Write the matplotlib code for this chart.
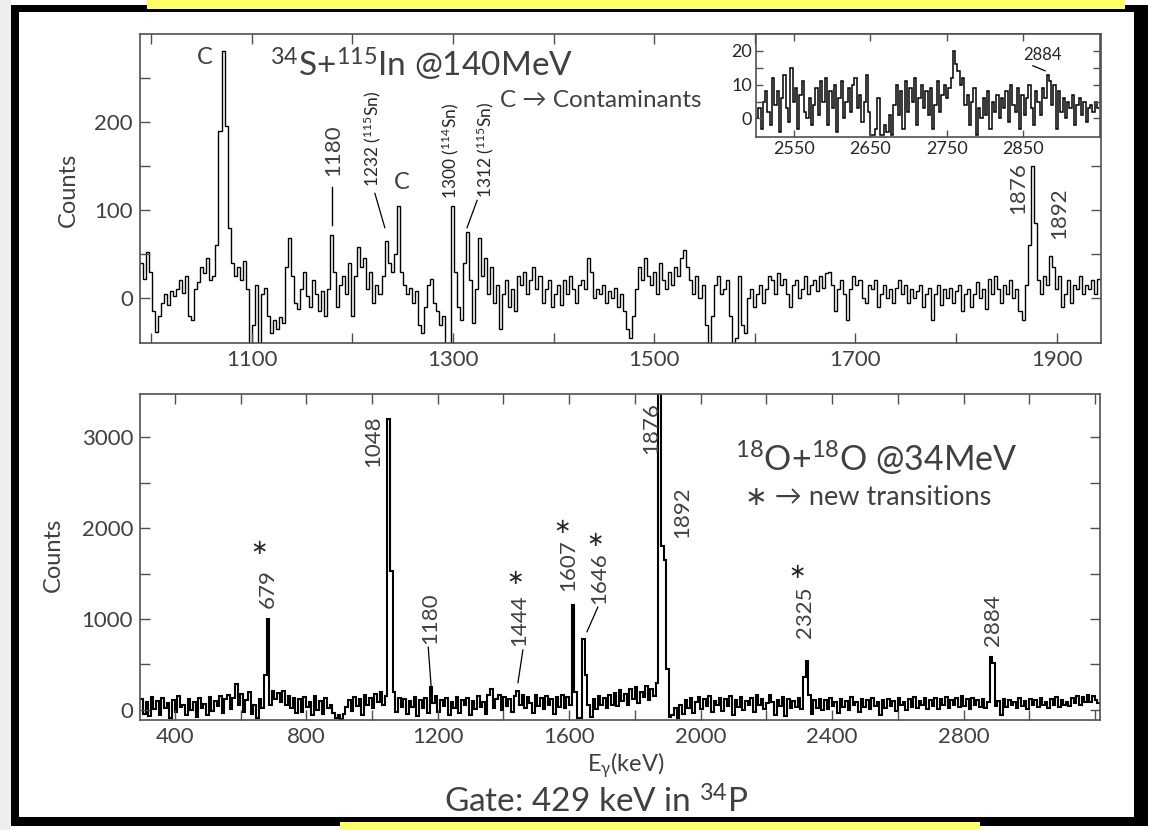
import numpy as np
import matplotlib
matplotlib.use('Agg')
import matplotlib.pyplot as plt
from matplotlib.patches import Rectangle

plt.rcParams['font.family'] = ['Lato', 'DejaVu Sans']
plt.rcParams['mathtext.fontset'] = 'custom'
plt.rcParams['mathtext.rm'] = 'Lato'
plt.rcParams['mathtext.it'] = 'Lato:italic'
plt.rcParams['mathtext.default'] = 'regular'
plt.rcParams['mathtext.fallback'] = 'stixsans'

# 34S+115In gated spectrum, 3 keV bins starting at 989 keV
up_start, up_width = 989, 3
up_counts = [
    40, 22, 52, 30, -15, -38, -20, -5, 5, -8, 8, 2, 10, 20, 6, 25, -20, -25, 10, 18,
    35, 28, 45, 20, 25, 60, 190, 281, 195, 80, 40, 25, 35, 20, 42, 10, -55, -30, 15, -60,
    5, 12, -20, -40, -25, -35, -22, -28, 35, 68, 25, -5, -12, 10, 30, 2, -10, 20, 5, -15,
    8, -20, 10, 72, 30, -10, 15, 25, 5, 40, -20, 25, 58, 35, 45, 10, 30, -5, 15, 5,
    25, 65, 40, 30, 50, 105, 30, 15, 5, 12, -5, 8, -30, -40, -10, 15, 22, -5, -15, -30,
    -20, -55, -60, 105, 30, -10, -25, 40, 75, 20, -28, 10, 68, 25, 45, 5, 35, -5, 15, -35,
    5, 20, -10, 10, -15, 25, 15, 30, 5, 20, 35, 10, 25, -5, 10, 20, -10, 5, 15, -8,
    20, 5, 25, 10, -5, 15, 20, 10, 45, 30, 0, 10, 5, 15, -5, 8, 0, 12, -10, 5,
    -15, -35, -45, -20, 10, 35, 20, 45, 25, 15, 30, 5, 40, 20, 10, 30, 15, 35, 25, 45,
    55, 35, 20, 5, 25, 0, 15, -30, -60, -20, 15, 25, 5, 10, 20, -20, -60, -45, 25, -30,
    -40, 0, 10, -10, 5, 15, -5, 10, 25, 20, 5, 28, 15, 22, 5, -10, 15, 20, 0, 10,
    25, 5, 15, 20, 8, 25, 12, 28, 30, 15, -15, 10, 20, 5, -25, 10, 25, 15, 20, 0,
    -5, 15, 10, 20, -10, 5, 15, 0, 10, -5, 12, 20, 5, 15, -5, 10, 0, 8, 15, -10,
    5, 12, -25, 5, 15, -8, 10, 0, 12, -5, 8, 15, -15, 5, 10, -10, 5, 18, 0, 10,
    -12, 22, 5, 25, 10, -5, 15, 5, 20, 0, 10, -15, -25, 15, 60, 150, 85, 20, 5, 25,
    15, 48, 35, 10, 25, -10, 5, 20, -5, 15, 10, 25, 5, 15, 10, 20, 5, 22,
]

# 18O+18O gated spectrum, 8 keV bins starting at 295 keV
low_start, low_width = 295, 8
low_counts = [
    120, -40, 90, -70, 140, 10, 100, -60, 130, 20, 80, -90, 110, -20, 150, 30, 60, -50, 120, 0,
    90, -80, 130, 20, 70, -60, 140, -10, 100, 40, 150, -30, 120, 170, 10, 130, 290, 60, 180, -20,
    110, 200, -40, 60, -90, 120, 20, 380, 1000, 60, 210, 120, 190, 90, 210, 60, 150, 20, 130, -30,
    120, -20, 140, 30, 90, -60, 150, 0, 100, -40, 130, 20, 60, -30, -90, -60, -95, -40, 30, 110,
    -10, 140, 40, 120, -50, 160, 60, 130, 20, 180, 90, 200, 60, 150, 3200, 1530, 200, -20, 130, 30,
    120, -40, 100, 30, 140, -70, 110, 20, 130, -30, 250, 80, 150, -20, 110, 40, 130, -50, 90, 20,
    140, -30, 110, 50, 130, -60, 100, 10, 150, 30, 90, -40, 160, 230, 20, 120, 170, 0, 140, 40,
    120, -20, 150, 210, 60, 170, 20, 140, 80, -30, 160, 40, 130, 10, 150, 60, 120, -40, 140, 30,
    160, 20, 140, 60, 1150, 200, -85, -90, 780, 390, 60, -80, 120, 10, 150, 60, 130, 20, 170, 50,
    190, 40, 220, 100, 180, 60, 230, 120, 250, 80, 200, 140, 260, 110, 230, 150, 300, 4200, 1800, 1650,
    450, -80, -60, 20, -90, 60, -40, 110, 20, 130, -30, 90, 140, 10, 120, 40, 150, -20, 100, 60,
    130, -10, 120, 40, 150, -50, 110, 30, 140, 0, 100, 60, 130, -20, 160, 50, 120, 10, 80, 170,
    90, -50, 110, 40, 140, -70, 120, 20, 100, 30, 130, 10, 365, 540, 160, -40, 110, 20, 120, 0,
    110, 10, 130, 40, 90, -30, 120, 30, 100, 0, 140, 50, 90, -20, 120, 30, 110, 10, 130, 40,
    90, -60, 110, 20, 120, 40, 100, -10, 130, 50, 90, 0, 120, 30, 140, 20, 100, 50, 130, 10,
    110, 40, 130, 10, 120, 50, 140, 20, 110, 60, 130, 30, 150, 40, 120, 10, 130, 60, 110, 30,
    120, 20, 90, 585, 520, 40, 100, -60, 120, 30, 110, 50, 90, 20, 130, 40, 100, 10, 120, 50,
    110, 30, 130, 60, 90, 20, 120, 50, 140, 30, 110, 60, 90, 40, 130, 80, 150, 60, 140, 90,
    160, 90, 150, 110, 80,
]

# high-energy part of the 34S+115In spectrum, 3 keV bins starting at 2500 keV
ins_start, ins_width = 2500, 3
ins_counts = [
    0, 3, -3, 5, 8, 2, -2, 12, 4, 8, -4, 6, 13, 3, -1,
    15, 5, 9, -3, 7, 11, 2, 0, 6, -2, 4, 9, 1, 11, 5,
    12, -2, 8, 3, 10, -4, 6, 11, 0, 5, 9, 2, 10, 12, 3,
    7, -1, 5, 13, 2, -5, -5, -3, 6, -5, -5, -2, -4, 1, -5,
    4, 10, 1, 8, -3, 11, 2, 9, 5, 12, -2, 6, 10, 3, 8,
    1, 9, -3, 4, 11, 2, 7, 10, 6, 9, 12, 20, 16, 14, 10,
    12, 4, 7, -2, 5, 9, -5, 3, 0, 6, 1, 8, -3, 5, 2,
    7, 0, 6, 3, 8, -1, 10, 4, 2, 9, -3, 7, 1, 6, 10,
    3, -2, 8, 5, 1, 9, 6, 13, 11, 4, 10, -3, 8, 2, 6,
    0, 5, 3, 7, -2, 4, 6, 1, 5, -1, 3, 4, 2, 5, 3,
]

W, H = 1150, 830
TXT = '#404040'
DARK = '#262626'
AX = '#505050'


def box(l, t, r, b):
    return [l / W, 1 - b / H, (r - l) / W, (b - t) / H]


def edges(start, width, vals):
    return start + width * np.arange(len(vals) + 1)


def style(ax, size=16):
    for s in ax.spines.values():
        s.set_color(AX)
        s.set_linewidth(1.2)
    for which in ('major', 'minor'):
        ax.tick_params(which=which, direction='in', top=True, right=True,
                       length=7, width=1, color=AX, labelcolor=TXT,
                       labelsize=size, pad=5)


fig = plt.figure(figsize=(W / 100, H / 100), dpi=100)

# top panel
ax1 = fig.add_axes(box(140, 34, 1101, 343))
ax1.stairs(up_counts, edges(up_start, up_width, up_counts), color='k', lw=1.0, baseline=None)
ax1.set_xlim(989, 1944)
ax1.set_ylim(-51, 300)
ax1.set_xticks([1100, 1300, 1500, 1700, 1900])
ax1.set_xticks(range(1000, 1950, 100), minor=True)
ax1.set_yticks([0, 100, 200])
ax1.set_yticks([50, 150, 250], minor=True)
style(ax1)

ax1.text(1053, 273, 'C', fontsize=17, color=TXT, ha='center', va='center')
ax1.text(1118, 265, r'$^{34}$S+$^{115}$In @140MeV', fontsize=24, color=TXT, ha='left', va='center')
ax1.text(1347, 225, 'C → Contaminants', fontsize=17.5, color=TXT, ha='left', va='center')
ax1.text(1180.6, 168, '1180', fontsize=16, color=TXT, rotation=90, ha='center', va='center')
ax1.plot([1180, 1180], [83, 126], color='k', lw=1)
ax1.text(1220, 181, r'1232 ($^{115}$Sn)', fontsize=12.5, color=DARK, rotation=90,
         ha='center', va='center')
ax1.plot([1222.4, 1232.3], [119, 80], color='k', lw=0.9)
ax1.text(1249, 131, 'C', fontsize=17, color=TXT, ha='center', va='center')
ax1.text(1297, 167, r'1300 ($^{114}$Sn)', fontsize=12.5, color=DARK, rotation=90,
         ha='center', va='center')
ax1.text(1332, 168, r'1312 ($^{115}$Sn)', fontsize=12.5, color=DARK, rotation=90,
         ha='center', va='center')
ax1.plot([1324, 1314], [111, 80], color='k', lw=0.9)
ax1.text(1862, 125, '1876', fontsize=16, color=TXT, rotation=90, ha='center', va='center')
ax1.text(1902, 97, '1892', fontsize=16, color=TXT, rotation=90, ha='center', va='center')

# inset with the 2884 keV region
axi = fig.add_axes(box(756, 34, 1100, 137))
axi.set_zorder(5)
axi.stairs(ins_counts, edges(ins_start, ins_width, ins_counts), color='k', lw=1.1, baseline=None)
axi.set_xlim(2500, 2951)
axi.set_ylim(-5.5, 25)
axi.set_xticks([2550, 2650, 2750, 2850])
axi.set_yticks([0, 10, 20])
axi.set_yticks([5, 15], minor=True)
style(axi, size=13)
axi.tick_params(which='both', length=5, pad=3, labelcolor=DARK)
axi.text(2876, 18.8, '2884', fontsize=12, color=DARK, ha='center', va='center')
axi.plot([2863, 2879], [15.6, 14.1], color='k', lw=0.9)

# bottom panel
ax2 = fig.add_axes(box(140, 394, 1100, 720))
ax2.stairs(low_counts, edges(low_start, low_width, low_counts), color='k', lw=1.5, baseline=None)
ax2.set_xlim(294, 3215)
ax2.set_ylim(-110, 3473)
ax2.set_xticks(range(400, 3000, 400))
ax2.set_xticks(range(400, 3201, 200), minor=True)
ax2.set_yticks([0, 1000, 2000, 3000])
ax2.set_yticks([500, 1500, 2500], minor=True)
style(ax2)

star = dict(fontsize=15, color=DARK, ha='center', va='center', family=['DejaVu Sans'])
peak = dict(fontsize=16, color=TXT, rotation=90, ha='center', va='center')
ax2.text(656, 1780, '∗', **star)
ax2.text(683, 1340, '679', **peak)
ax2.text(1003, 2956, '1048', **peak)
ax2.text(1176, 1010, '1180', **peak)
ax2.plot([1171, 1180], [690, 250], color='k', lw=0.9)
ax2.text(1435, 1450, '∗', **star)
ax2.text(1447, 990, '1444', **peak)
ax2.plot([1459, 1444], [660, 300], color='k', lw=0.9)
ax2.text(1578, 2010, '∗', **star)
ax2.text(1596, 1590, '1607', **peak)
ax2.text(1679, 1870, '∗', **star)
ax2.text(1691, 1450, '1646', **peak)
ax2.plot([1687, 1654], [1130, 860], color='k', lw=0.9)
ax2.text(1849, 3100, '1876', **peak)
ax2.text(1943, 2175, '1892', **peak)
ax2.text(2293, 1516, '∗', **star)
ax2.text(2318, 1077, '2325', **peak)
ax2.text(2890, 990, '2884', **peak)
ax2.text(2105, 2770, r'$^{18}$O+$^{18}$O @34MeV', fontsize=24.5, color=TXT, ha='left', va='center')
ax2.text(2135, 2340, '∗ → new transitions', fontsize=19.5, color=TXT, ha='left', va='center',
         family=['Lato', 'DejaVu Sans'])

fig.text(68 / W, 1 - 190 / H, 'Counts', rotation=90, fontsize=17, color=TXT, ha='center', va='center')
fig.text(53 / W, 1 - 555 / H, 'Counts', rotation=90, fontsize=17, color=TXT, ha='center', va='center')
fig.text(626 / W, 1 - 765 / H, r'E$_{\gamma}$(keV)', fontsize=17, color=TXT, ha='center', va='center')
fig.text(596 / W, 1 - 802 / H, r'Gate: 429 keV in $^{34}$P', fontsize=24, color=TXT,
         ha='center', va='center')


def patch(l, t, r, b, c):
    fig.patches.append(Rectangle((l / W, 1 - b / H), (r - l) / W, (b - t) / H,
                                 transform=fig.transFigure, color=c, lw=0, zorder=10))


# page border
patch(0, 0, 11, H, '#eeeeee')
patch(11, 5, 1148, 12, 'black')
patch(11, 5, 19, 826, 'black')
patch(1134, 5, 1148, 826, 'black')
patch(11, 817, 1148, 826, 'black')
patch(147, 0, 1125, 9, '#ffff66')
patch(340, 822, 980, H, '#ffff66')

fig.savefig('out.png', dpi=100)
